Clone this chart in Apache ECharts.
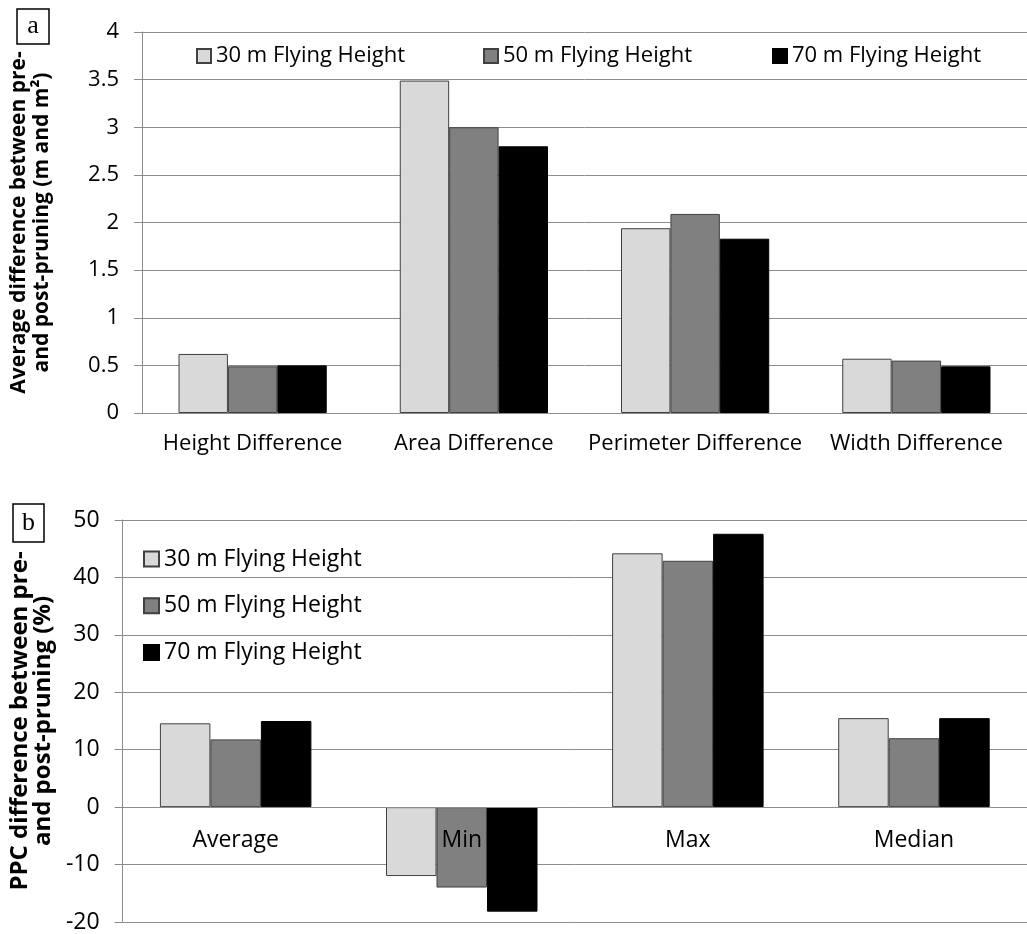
<!DOCTYPE html>
<html><head><meta charset="utf-8">
<script src="https://cdn.jsdelivr.net/npm/echarts@6/dist/echarts.min.js"></script>
<style>html,body{margin:0;padding:0;background:#fff}#c{width:1027px;height:934px}</style>
</head><body><div id="c"></div>
<script>
const seriesNames = ['30 m Flying Height', '50 m Flying Height', '70 m Flying Height'];
const barColors = ['#d9d9d9', '#808080', '#000000'];
const catsA = ['Height Difference', 'Area Difference', 'Perimeter Difference', 'Width Difference'];
const a30 = [0.62, 3.49, 1.94, 0.57];
const a50 = [0.49, 3.00, 2.09, 0.55];
const a70 = [0.50, 2.80, 1.83, 0.49];
const catsB = ['Average', 'Min', 'Max', 'Median'];
const b30 = [14.6, -12.0, 44.2, 15.5];
const b50 = [11.8, -14.0, 42.9, 12.0];
const b70 = [15.0, -18.2, 47.6, 15.5];
const yTitleA = 'Average difference between pre-\nand post-pruning (m and m\u00b2)';
const yTitleB = 'PPC difference between pre-\nand post-pruning (%)';
const yMinB = -20, yMaxB = 50;

const FONT = 'Open Sans';
const GRID = '#8c8c8c';
const TXT = '#000';
const H = 934;
const gridA = {left: 140, top: 32, right: -10, bottom: 521};
const gridB = {left: 118, top: 520, right: -8, bottom: 12};
// place panel b's category axis at the value-axis zero (like Excel "axis crosses at 0")
const gridBHeight = H - gridB.top - gridB.bottom;
const zeroOffsetB = -gridBHeight * (0 - yMinB) / (yMaxB - yMinB);

const chart = echarts.init(document.getElementById('c'), null, {renderer: 'canvas'});

function mkSeries(name, data, color, idx) {
  return {
    type: 'bar', name: name, data: data, xAxisIndex: idx, yAxisIndex: idx,
    barGap: '0%', barCategoryGap: '33%',
    itemStyle: {color: color, borderColor: color === '#000000' ? '#000' : '#404040', borderWidth: 1},
    emphasis: {disabled: true}, animation: false
  };
}
const legendCommon = {
  padding: 0, itemWidth: 14, itemHeight: 14, icon: 'rect', selectedMode: false,
  textStyle: {fontFamily: FONT, fontSize: 22, lineHeight: 24, color: TXT}
};

const option = {
  animation: false,
  grid: [gridA, gridB],
  legend: [
    Object.assign({}, legendCommon, {data: [seriesNames[0]], left: 196, top: 44}),
    Object.assign({}, legendCommon, {data: [seriesNames[1]], left: 483, top: 44}),
    Object.assign({}, legendCommon, {data: [seriesNames[2]], left: 772, top: 44}),
    Object.assign({}, legendCommon, {data: seriesNames, orient: 'vertical', left: 143, top: 547,
      itemGap: 22.7, itemWidth: 15, itemHeight: 15,
      textStyle: {fontFamily: FONT, fontSize: 23, lineHeight: 24, color: TXT}})
  ],
  xAxis: [
    {type: 'category', gridIndex: 0, data: catsA, z: 3,
     axisLine: {lineStyle: {color: GRID}}, axisTick: {length: 7, lineStyle: {color: GRID}},
     axisLabel: {margin: 20, fontFamily: FONT, fontSize: 22, color: TXT, interval: 0}},
    {type: 'category', gridIndex: 1, data: catsB, z: 3, offset: zeroOffsetB,
     axisLine: {onZero: false, lineStyle: {color: GRID}}, axisTick: {length: 7, lineStyle: {color: GRID}},
     axisLabel: {margin: 22, fontFamily: FONT, fontSize: 23, color: TXT, interval: 0}}
  ],
  yAxis: [
    {type: 'value', gridIndex: 0, min: 0, max: 4, interval: 0.5,
     axisLine: {show: true, lineStyle: {color: GRID}}, axisTick: {show: true, length: 8, lineStyle: {color: GRID}},
     splitLine: {lineStyle: {color: GRID}},
     axisLabel: {margin: 23, fontFamily: FONT, fontSize: 22, color: TXT},
     name: yTitleA, nameLocation: 'middle', nameRotate: 90, nameGap: 88,
     nameTextStyle: {fontFamily: FONT, fontSize: 21, fontWeight: 'bold', color: TXT, lineHeight: 23, align: 'center'}},
    {type: 'value', gridIndex: 1, min: yMinB, max: yMaxB, interval: 10,
     axisLine: {show: true, lineStyle: {color: GRID}}, axisTick: {show: true, length: 8, lineStyle: {color: GRID}},
     splitLine: {lineStyle: {color: GRID}},
     axisLabel: {margin: 23, fontFamily: FONT, fontSize: 23, color: TXT},
     name: yTitleB, nameLocation: 'middle', nameRotate: 90, nameGap: 65,
     nameTextStyle: {fontFamily: FONT, fontSize: 24, fontWeight: 'bold', color: TXT, lineHeight: 23, align: 'center'}}
  ],
  series: [
    mkSeries(seriesNames[0], a30, barColors[0], 0),
    mkSeries(seriesNames[1], a50, barColors[1], 0),
    mkSeries(seriesNames[2], a70, barColors[2], 0),
    mkSeries(seriesNames[0], b30, barColors[0], 1),
    mkSeries(seriesNames[1], b50, barColors[1], 1),
    mkSeries(seriesNames[2], b70, barColors[2], 1)
  ],
  graphic: [
    {type: 'rect', shape: {x: 17, y: 9, width: 32, height: 35}, style: {fill: '#fff', stroke: '#000', lineWidth: 1.5}},
    {type: 'text', x: 33, y: 26.5, style: {text: 'a', font: '26px "Liberation Serif"', fill: '#000', align: 'center', verticalAlign: 'middle'}},
    {type: 'rect', shape: {x: 13, y: 504, width: 31, height: 38}, style: {fill: '#fff', stroke: '#000', lineWidth: 1.5}},
    {type: 'text', x: 28.5, y: 523, style: {text: 'b', font: '26px "Liberation Serif"', fill: '#000', align: 'center', verticalAlign: 'middle'}}
  ]
};
chart.setOption(option);
</script>
</body></html>
